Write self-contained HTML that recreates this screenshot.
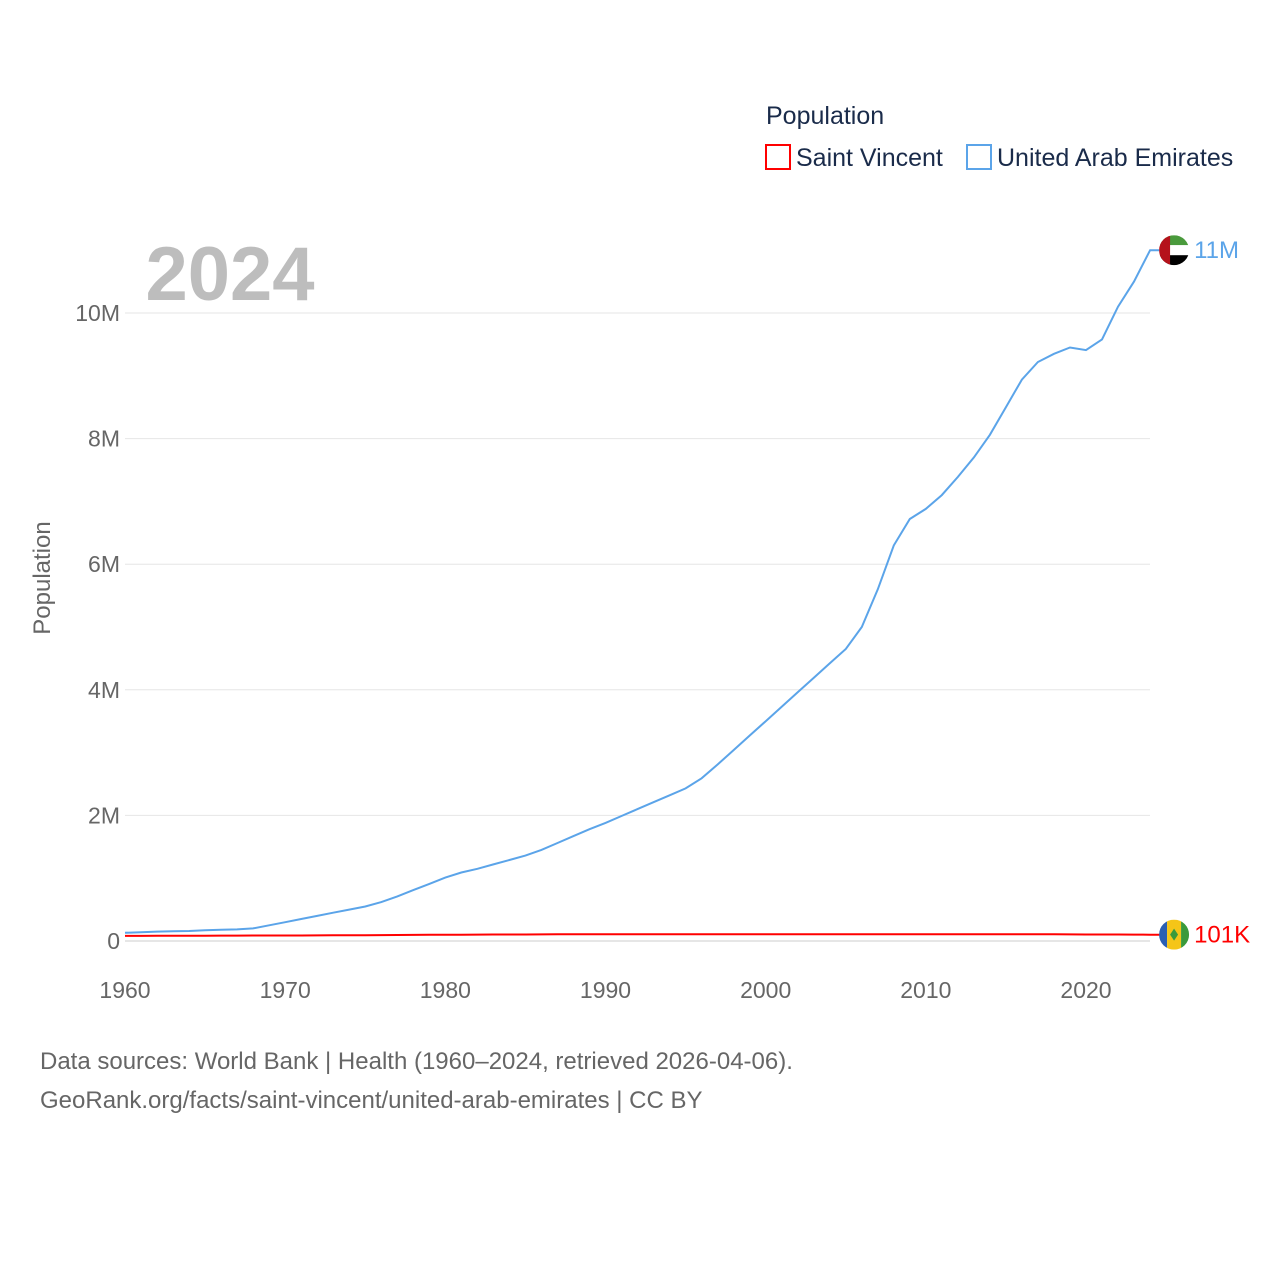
<!DOCTYPE html>
<html><head><meta charset="utf-8"><style>
body{margin:0;background:#fff;font-family:"Liberation Sans",sans-serif;}
svg text{font-family:"Liberation Sans",sans-serif;}
</style></head><body>
<svg width="1280" height="1280">
<g id="grid"></g>
<g id="ylabels"></g>
<g id="xlabels"></g>
<text x="230" y="300" font-size="76" font-weight="bold" fill="#bdbdbd" text-anchor="middle">2024</text>
<text transform="translate(50,578) rotate(-90)" font-size="24" fill="#666" text-anchor="middle">Population</text>
<g>
<text x="766" y="124" font-size="25" fill="#1a2b4a">Population</text>
<g><rect x="766" y="145" width="24" height="24" fill="none" stroke="#ff0000" stroke-width="2"/><text x="796" y="166" font-size="25" fill="#1a2b4a">Saint Vincent</text></g>
<g><rect x="967" y="145" width="24" height="24" fill="none" stroke="#5ba4e9" stroke-width="2"/><text x="997" y="166" font-size="25" fill="#1a2b4a">United Arab Emirates</text></g>
</g>
<g id="series"></g>
<text x="40" y="1069" font-size="24" fill="#666">Data sources: World Bank | Health (1960–2024, retrieved 2026-04-06).</text>
<text x="40" y="1108" font-size="24" fill="#666">GeoRank.org/facts/saint-vincent/united-arab-emirates | CC BY</text>
</svg>
<script>
const years=[];for(let y=1960;y<=2024;y++)years.push(y);
const uae=[0.13,0.14,0.15,0.155,0.16,0.17,0.18,0.185,0.2,0.25,0.30,0.35,0.40,0.45,0.50,0.55,0.62,0.71,0.81,0.91,1.01,1.09,1.15,1.22,1.29,1.36,1.45,1.56,1.67,1.78,1.88,1.99,2.1,2.21,2.32,2.43,2.59,2.81,3.04,3.27,3.5,3.73,3.96,4.19,4.42,4.65,5.0,5.6,6.3,6.72,6.88,7.1,7.39,7.7,8.06,8.5,8.94,9.22,9.35,9.45,9.41,9.58,10.1,10.5,11.0];
const svc=[0.081,0.082,0.083,0.084,0.085,0.085,0.086,0.086,0.087,0.087,0.087,0.088,0.089,0.090,0.091,0.092,0.094,0.096,0.097,0.099,0.100,0.101,0.102,0.103,0.104,0.104,0.105,0.106,0.106,0.107,0.108,0.108,0.108,0.108,0.108,0.108,0.109,0.109,0.109,0.109,0.108,0.108,0.108,0.108,0.108,0.108,0.108,0.108,0.108,0.109,0.109,0.109,0.109,0.109,0.109,0.108,0.108,0.107,0.106,0.105,0.104,0.104,0.103,0.102,0.101];
const yTicks=[0,2,4,6,8,10];
const yTickLabels=["0","2M","4M","6M","8M","10M"];
const xTicks=[1960,1970,1980,1990,2000,2010,2020];
const xs=y=>125+(y-1960)*(961/60);
const ys=v=>941-v*62.8;
const NS="http://www.w3.org/2000/svg";
function mk(t,a,p){const e=document.createElementNS(NS,t);for(const k in a)e.setAttribute(k,a[k]);p.appendChild(e);return e;}
const grid=document.getElementById('grid'),yl=document.getElementById('ylabels'),xl=document.getElementById('xlabels'),ser=document.getElementById('series');
yTicks.forEach((v,i)=>{
 const l=mk('line',{x1:125,x2:1150,y1:ys(v),y2:ys(v),stroke:v===0?'#ccc':'#e6e6e6','stroke-width':1},grid);
 
 
 const t=mk('text',{x:120,y:ys(v)+8,'font-size':23,fill:'#666','text-anchor':'end'},yl);t.textContent=yTickLabels[i];
 
 
});
xTicks.forEach(y=>{
 const t=mk('text',{x:xs(y),y:998,'font-size':23,fill:'#666','text-anchor':'middle'},xl);t.textContent=y;
 
 
});
function line(data,color,name,ext){
 let d=data.map((v,i)=>(i?'L':'M')+xs(years[i]).toFixed(1)+','+ys(v).toFixed(1)).join('');
 d+='H'+(xs(years[years.length-1])+ext).toFixed(1);
 const p=mk('path',{d:d,fill:'none',stroke:color,'stroke-width':2},ser);
 
 
}
line(uae,'#5ba4e9','uae-line',10);
line(svc,'#ff0000','saint-vincent-line',10);
const lastU=uae[uae.length-1],lastS=svc[svc.length-1],lx=xs(2024);
const fu=mk('g',{},ser);


const cu=lx+24,cyu=ys(lastU);
const cpu=mk('clipPath',{id:'cu'},fu);mk('circle',{cx:cu,cy:cyu,r:15},cpu);
const gu=mk('g',{'clip-path':'url(#cu)'},fu);
mk('rect',{x:cu-15,y:cyu-15,width:30,height:10,fill:'#4a9a3c'},gu);
mk('rect',{x:cu-15,y:cyu-5,width:30,height:10,fill:'#fff'},gu);
mk('rect',{x:cu-15,y:cyu+5,width:30,height:10,fill:'#000'},gu);
mk('rect',{x:cu-15,y:cyu-15,width:11,height:30,fill:'#b5121b'},gu);
const tu=mk('text',{x:cu+20,y:cyu+8,'font-size':24,fill:'#5ba4e9'},ser);tu.textContent='11M';


const fs=mk('g',{},ser);


const cyS=ys(lastS);
const cp=mk('clipPath',{id:'cs'},fs);mk('circle',{cx:cu,cy:cyS,r:15},cp);
const gs=mk('g',{'clip-path':'url(#cs)'},fs);
mk('rect',{x:cu-15,y:cyS-15,width:8,height:30,fill:'#2b5fb3'},gs);
mk('rect',{x:cu-7,y:cyS-15,width:14,height:30,fill:'#f5c518'},gs);
mk('rect',{x:cu+7,y:cyS-15,width:8,height:30,fill:'#3a9a3c'},gs);
mk('path',{d:`M${cu},${cyS-6}l4,6l-4,6l-4,-6z`,fill:'#3a9a3c'},gs);
const ts=mk('text',{x:cu+20,y:cyS+8,'font-size':24,fill:'#ff0000'},ser);ts.textContent='101K';


</script>
</body></html>
